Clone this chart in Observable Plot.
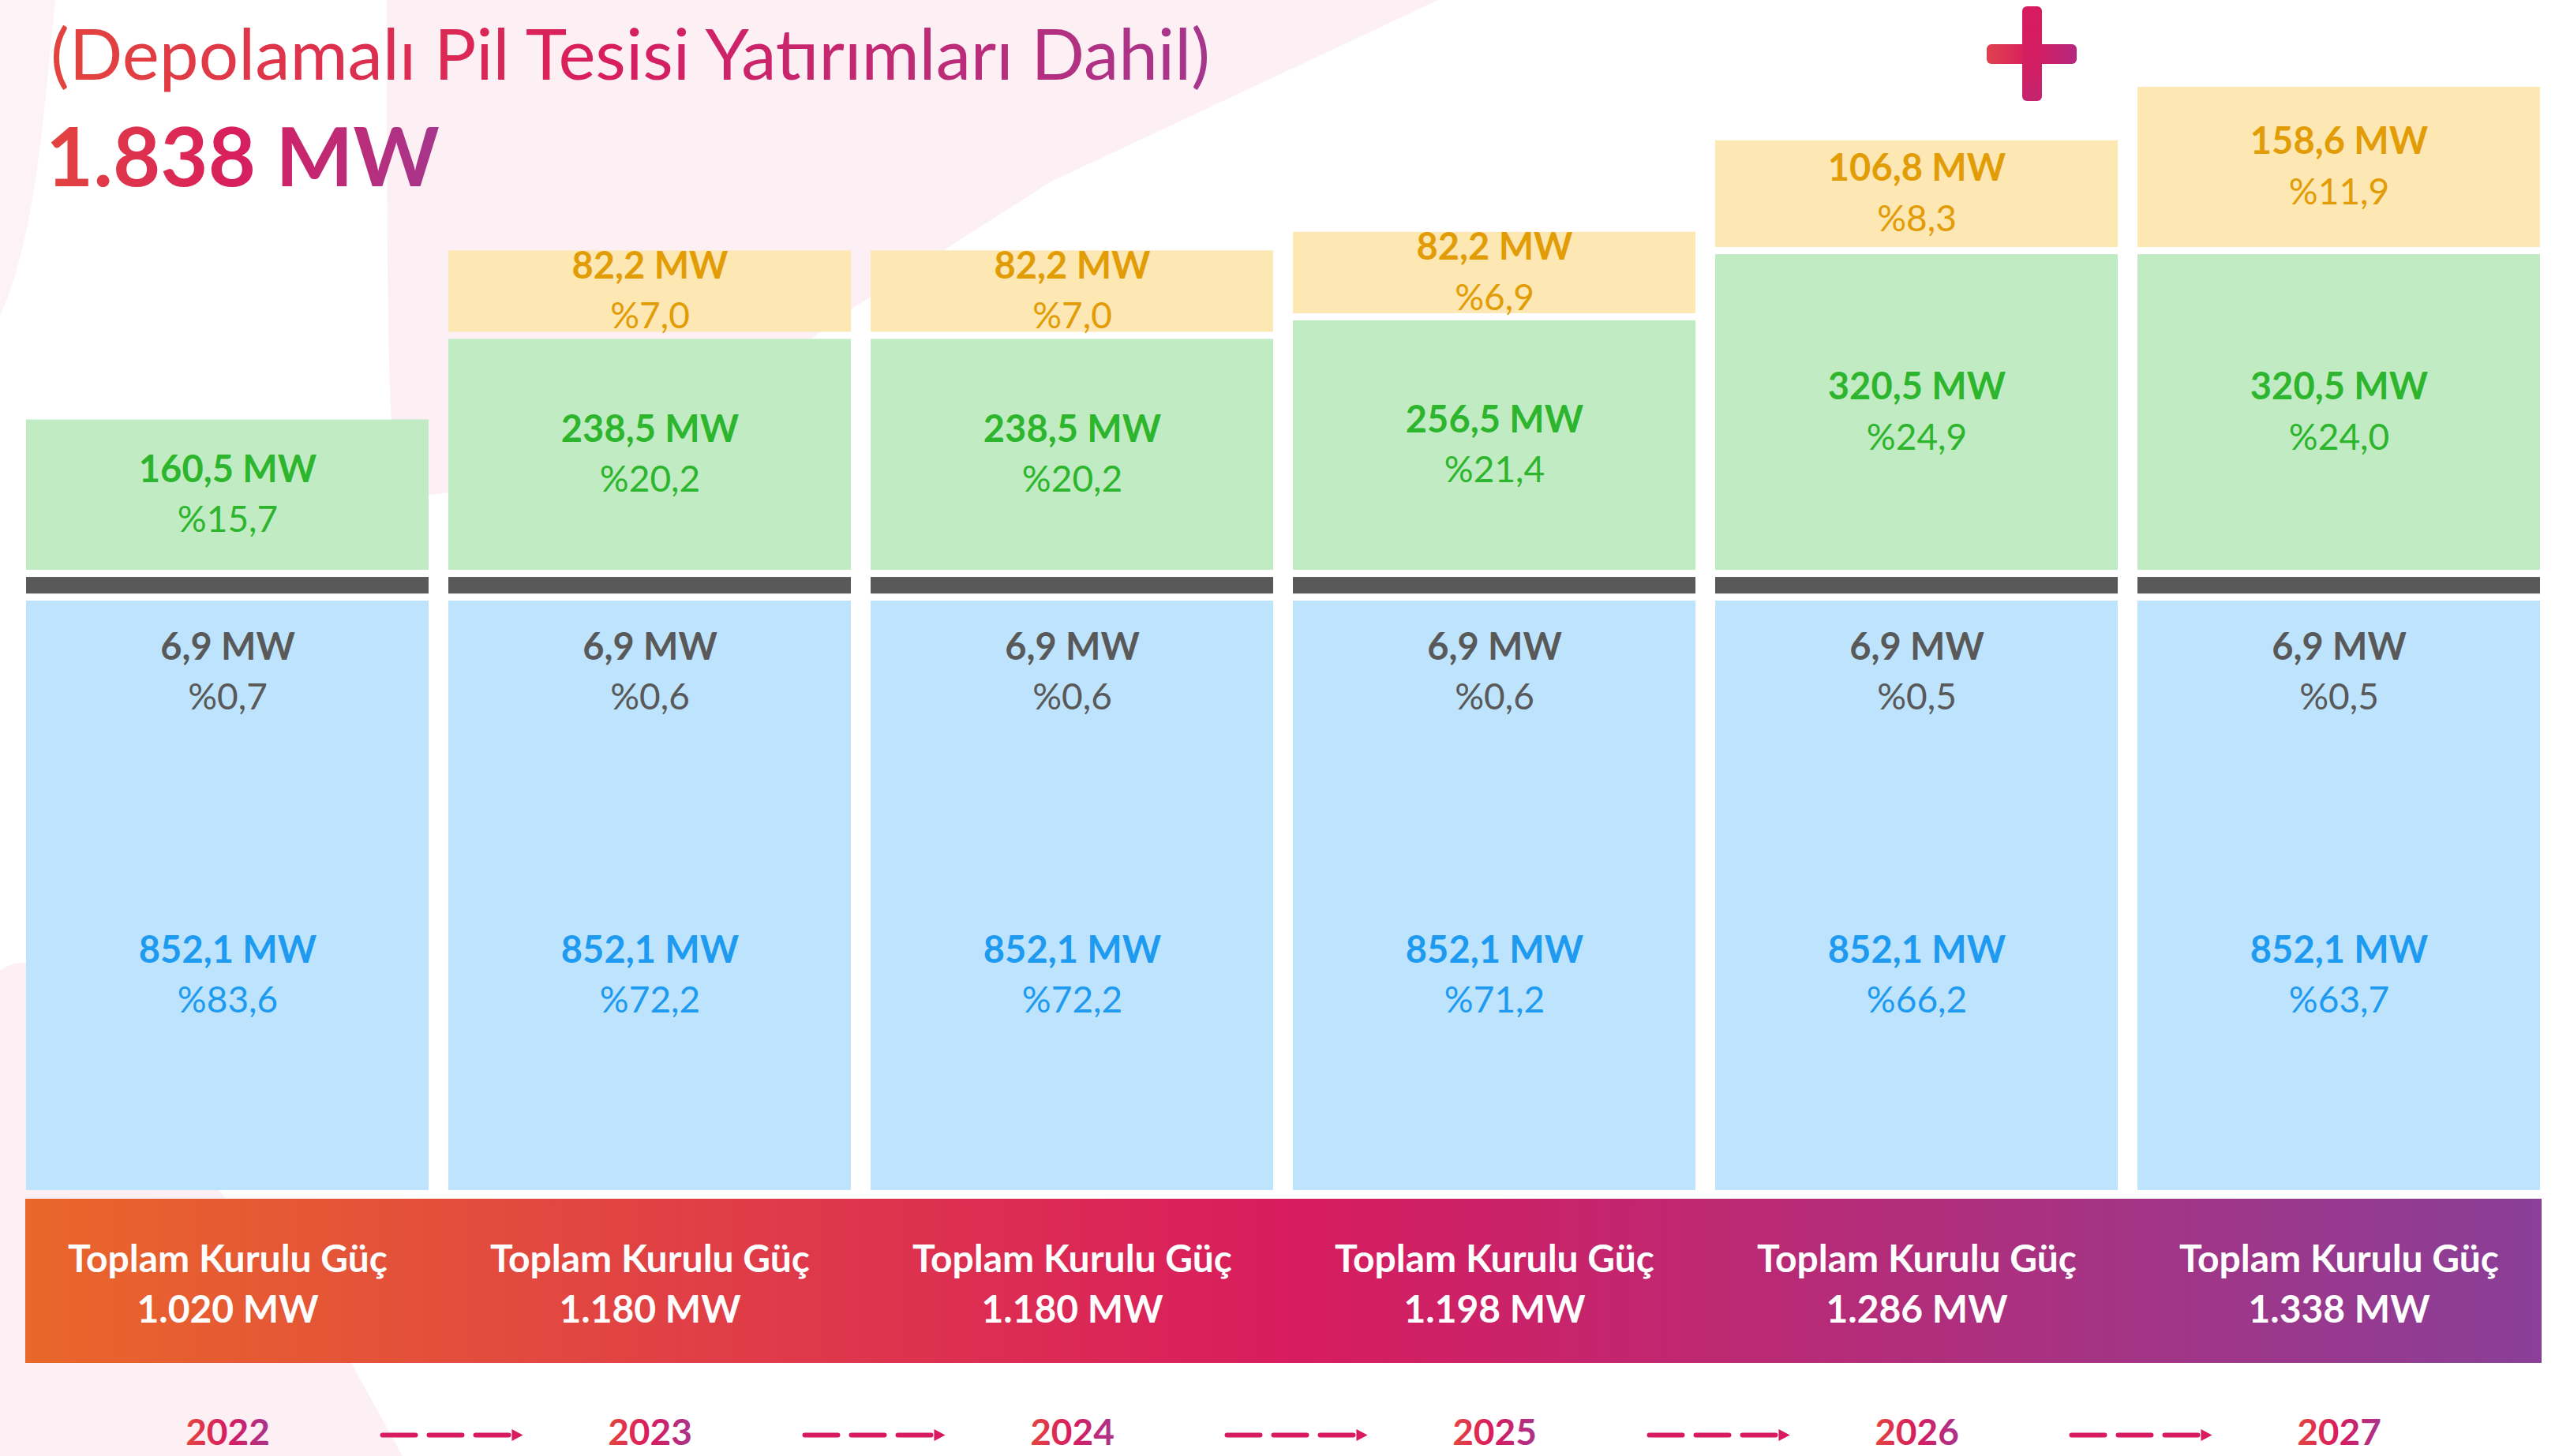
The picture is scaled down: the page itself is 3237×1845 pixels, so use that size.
<!DOCTYPE html>
<html>
<head>
<meta charset="utf-8">
<script src="https://cdn.jsdelivr.net/npm/d3@7"></script>
<script src="https://cdn.jsdelivr.net/npm/@observablehq/plot@0.6"></script>
<style>
  html, body { margin: 0; padding: 0; background: #ffffff; }
  #wrap { position: relative; width: 3237px; height: 1845px; overflow: hidden; font-family: Lato, "Open Sans", sans-serif; }
  #bg { position: absolute; left: 0; top: 0; z-index: 0; }
  #chart { position: absolute; left: 0; top: 0; z-index: 1; }
  .gt { position: absolute; white-space: nowrap; line-height: 1.2; z-index: 2;
        background: linear-gradient(90deg, #E3443E 0%, #D81E5E 48%, #A6368D 100%);
        -webkit-background-clip: text; background-clip: text; color: transparent; }
  .plusbar { position: absolute; border-radius: 6px; z-index: 2; }
</style>
</head>
<body>
<div id="wrap">
  <svg id="bg" width="3237" height="1845">
    <path d="M0,0 L70,0 C55,150 45,300 0,400 Z" fill="#FDF3F6"/>
    <path d="M490,0 L1822,0 L1332,230 L1072,396 L800,600 L505,631 C492,560 490,400 490,0 Z" fill="#FCF0F4"/>
    <path d="M0,1230 Q40,1200 80,1260 L430,1700 L510,1845 L0,1845 Z" fill="#FCF0F4"/>
  </svg>
  <div id="chart"></div>
  <div class="gt" id="title" style="left:64px; top:14px; font-size:89px; font-weight:400;"></div>
  <div class="gt" id="headline" style="left:58px; top:134px; font-size:104px; font-weight:700;"></div>
  <div class="plusbar" style="left:2517px; top:56px; width:114px; height:25px; background:linear-gradient(90deg,#E0414F,#D81B60 50%,#B4297F);"></div>
  <div class="plusbar" style="left:2562px; top:8px; width:25px; height:120px; background:linear-gradient(180deg,#D81B60,#D21E62 60%,#C4246E);"></div>
</div>
<script>
// ---------- data ----------
const titleText = "(Depolamalı Pil Tesisi Yatırımları Dahil)";
const headlineText = "1.838 MW";
const years = ["2022", "2023", "2024", "2025", "2026", "2027"];
const blueMW    = [852.1, 852.1, 852.1, 852.1, 852.1, 852.1];
const bluePct   = [83.6, 72.2, 72.2, 71.2, 66.2, 63.7];
const greyMW    = [6.9, 6.9, 6.9, 6.9, 6.9, 6.9];
const greyPct   = [0.7, 0.6, 0.6, 0.6, 0.5, 0.5];
const greenMW   = [160.5, 238.5, 238.5, 256.5, 320.5, 320.5];
const greenPct  = [15.7, 20.2, 20.2, 21.4, 24.9, 24.0];
const orangeMW  = [0, 82.2, 82.2, 82.2, 106.8, 158.6];
const orangePct = [0, 7.0, 7.0, 6.9, 8.3, 11.9];
const totalMW   = [1020, 1180, 1180, 1198, 1286, 1338];
const totalLabel = "Toplam Kurulu Güç";

// ---------- colours ----------
const C = {
  blue: "#BDE3FD", blueText: "#1E9BF0",
  grey: "#595959", greyText: "#595959",
  green: "#C1EBC3", greenText: "#2DB52D",
  orange: "#FDE7B3", orangeText: "#E29C06",
  arrow: "#D81B60"
};

document.getElementById("title").textContent = titleText;
document.getElementById("headline").textContent = headlineText;

const trLocale = d3.formatLocale({decimal: ",", thousands: ".", grouping: [3], currency: ["", ""]});
const fmtInt = trLocale.format(",.0f");
const fmt1 = v => trLocale.format(".1f")(v);
const mw = v => fmt1(v) + " MW";
const pct = v => "%" + fmt1(v);

const rows = years.map((year, i) => ({
  year,
  b: blueMW[i], bp: bluePct[i],
  g: greyMW[i], gp: greyPct[i],
  gr: greenMW[i], grp: greenPct[i],
  o: orangeMW[i], op: orangePct[i],
  total: totalMW[i]
}));
const orangeRows = rows.filter(d => d.o > 0);
const pairs = d3.pairs(years).map(([a, b]) => ({a, b}));
const topValue = d3.max(rows, d => d.b + d.g + d.gr + d.o);

// band behind the totals (decorative background spanning the frame)
function totalsBand(...args) {
  const dim = args.find(a => a && typeof a === "object" && "marginBottom" in a && "width" in a)
    || {width: 3237, height: 1845, marginLeft: 32, marginRight: 17, marginBottom: 337};
  const g = d3.create("svg:g");
  g.append("rect")
    .attr("x", dim.marginLeft)
    .attr("y", dim.height - dim.marginBottom + 11)
    .attr("width", dim.width - dim.marginLeft - dim.marginRight)
    .attr("height", 208)
    .attr("fill", "url(#bandGrad)");
  return g.node();
}

const rightTriangle = {
  draw(ctx, size) {
    const h = Math.sqrt(size) / 2;
    ctx.moveTo(h, 0);
    ctx.lineTo(-h, -h * 1.05);
    ctx.lineTo(-h, h * 1.05);
    ctx.closePath();
  }
};

const plot = Plot.plot({
  width: 3237,
  height: 1845,
  marginLeft: 32,
  marginRight: 17,
  marginTop: 110,
  marginBottom: 337,
  style: {background: "transparent", fontFamily: "Lato, 'Open Sans', sans-serif", overflow: "visible"},
  x: {type: "band", domain: years, paddingInner: 0.046, paddingOuter: 0, axis: null},
  y: {type: "linear", domain: [270, topValue], clamp: true, axis: null},
  marks: [
    totalsBand,
    // stacked segments
    Plot.barY(rows, {x: "year", y1: 0, y2: d => d.b, fill: C.blue, insetTop: 15}),
    Plot.barY(rows, {x: "year", y1: d => d.b, y2: d => d.b + d.g, fill: C.grey, insetTop: -6, insetBottom: -6}),
    Plot.barY(rows, {x: "year", y1: d => d.b + d.g, y2: d => d.b + d.g + d.gr, fill: C.green, insetBottom: 15, insetTop: 4.5}),
    Plot.barY(orangeRows, {x: "year", y1: d => d.b + d.g + d.gr, y2: d => d.b + d.g + d.gr + d.o, fill: C.orange, insetBottom: 4.5}),

    // blue labels
    Plot.text(rows, {x: "year", y: 0, dy: -304, text: d => mw(d.b), fill: C.blueText, fontWeight: "bold", fontSize: 47}),
    Plot.text(rows, {x: "year", y: 0, dy: -240, text: d => pct(d.bp), fill: C.blueText, fontSize: 46}),
    // grey labels (placed at top of blue block)
    Plot.text(rows, {x: "year", y: d => d.b, dy: 74, text: d => mw(d.g), fill: C.greyText, fontWeight: "bold", fontSize: 47}),
    Plot.text(rows, {x: "year", y: d => d.b, dy: 138, text: d => pct(d.gp), fill: C.greyText, fontSize: 46}),
    // green labels
    Plot.text(rows, {x: "year", y: d => d.b + d.g + d.gr / 2, dy: -37, text: d => mw(d.gr), fill: C.greenText, fontWeight: "bold", fontSize: 47}),
    Plot.text(rows, {x: "year", y: d => d.b + d.g + d.gr / 2, dy: 27, text: d => pct(d.grp), fill: C.greenText, fontSize: 46}),
    // orange labels
    Plot.text(orangeRows, {x: "year", y: d => d.b + d.g + d.gr + d.o / 2, dy: -34, text: d => mw(d.o), fill: C.orangeText, fontWeight: "bold", fontSize: 47}),
    Plot.text(orangeRows, {x: "year", y: d => d.b + d.g + d.gr + d.o / 2, dy: 30, text: d => pct(d.op), fill: C.orangeText, fontSize: 46}),

    // totals in band
    Plot.text(rows, {x: "year", y: 0, dy: 115, text: d => totalLabel + "\n" + fmtInt(d.total) + " MW", fill: "white", fontWeight: "bold", fontSize: 48, lineHeight: 1.33}),

    // years
    Plot.text(rows, {x: "year", y: 0, dy: 308, text: "year", fill: "url(#yearGrad)", fontWeight: "bold", fontSize: 46}),
    // dashed arrows between years
    Plot.arrow(pairs, {x1: "a", x2: "b", y1: 0, y2: 0, dy: 310, stroke: C.arrow, strokeWidth: 6, strokeDasharray: "42,17", headLength: 0, insetStart: 196, insetEnd: 168}),
    Plot.dot(pairs, {x: "b", y: 0, dy: 310, dx: -168, symbol: rightTriangle, r: 8, fill: C.arrow, stroke: "none"})
  ]
});

// gradient definitions
const svg = d3.select(plot);
const defs = svg.insert("defs", ":first-child");
const bg = defs.append("linearGradient").attr("id", "bandGrad")
  .attr("gradientUnits", "userSpaceOnUse").attr("x1", 32).attr("x2", 3220).attr("y1", 0).attr("y2", 0);
bg.append("stop").attr("offset", "0").attr("stop-color", "#E9672A");
bg.append("stop").attr("offset", "0.5").attr("stop-color", "#D81C5E");
bg.append("stop").attr("offset", "1").attr("stop-color", "#8A3F98");
const yg = defs.append("linearGradient").attr("id", "yearGrad").attr("x1", "0").attr("x2", "1").attr("y1", "0").attr("y2", "0");
yg.append("stop").attr("offset", "0").attr("stop-color", "#E4463F");
yg.append("stop").attr("offset", "0.5").attr("stop-color", "#D81B60");
yg.append("stop").attr("offset", "1").attr("stop-color", "#A9358C");

document.getElementById("chart").appendChild(plot);
</script>
</body>
</html>
